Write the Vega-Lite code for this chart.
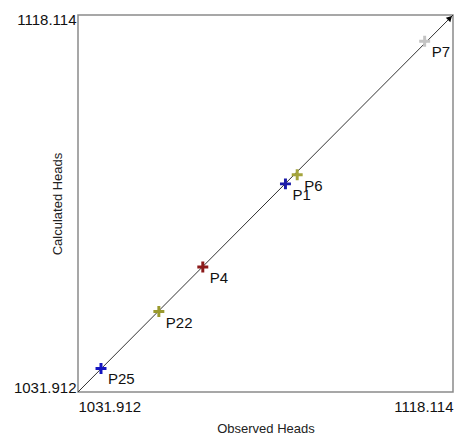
{
  "$schema": "https://vega.github.io/schema/vega-lite/v6.json",
  "width": 375,
  "height": 377,
  "autosize": "none",
  "padding": {"left": 78, "top": 15, "right": 2, "bottom": 44},
  "background": "white",
  "config": {
    "font": "Liberation Sans",
    "view": {"stroke": "#8a8a8a", "strokeWidth": 1.5}
  },
  "datasets": {
    "pts": [
      {"name": "P25", "obs": 1037.2, "calc": 1037.3, "color": "#1414c0"},
      {"name": "P22", "obs": 1050.5, "calc": 1050.3, "color": "#9a9a2e"},
      {"name": "P4", "obs": 1060.6, "calc": 1060.5, "color": "#8b1a1a"},
      {"name": "P6", "obs": 1082.3, "calc": 1081.6, "color": "#a4a43c"},
      {"name": "P1", "obs": 1079.6, "calc": 1079.5, "color": "#1a1aa8"},
      {"name": "P7", "obs": 1111.6, "calc": 1112.1, "color": "#c4c4c4"}
    ],
    "line": [
      {"obs": 1031.912, "calc": 1031.912},
      {"obs": 1118.114, "calc": 1118.114}
    ],
    "tip": [
      {"obs": 1118.114, "calc": 1118.114}
    ]
  },
  "encoding": {
    "x": {
      "field": "obs",
      "type": "quantitative",
      "scale": {"domain": [1031.912, 1118.114], "nice": false, "zero": false},
      "axis": {
        "values": [1031.912, 1118.114],
        "format": ".3f",
        "labelFlush": true,
        "ticks": false,
        "domain": false,
        "grid": false,
        "labelFontSize": 15,
        "labelColor": "#111",
        "labelPadding": 7,
        "title": "Observed Heads",
        "titleFontSize": 13,
        "titleFontWeight": "normal",
        "titleColor": "#222",
        "titleBaseline": "middle",
        "titleY": 36
      }
    },
    "y": {
      "field": "calc",
      "type": "quantitative",
      "scale": {"domain": [1031.912, 1118.114], "nice": false, "zero": false},
      "axis": {
        "values": [1031.912, 1118.114],
        "format": ".3f",
        "labelFlush": true,
        "labelFlushOffset": 3,
        "ticks": false,
        "domain": false,
        "grid": false,
        "labelFontSize": 15,
        "labelColor": "#111",
        "labelPadding": 2,
        "title": "Calculated Heads",
        "titleFontSize": 13,
        "titleFontWeight": "normal",
        "titleColor": "#222",
        "titleAngle": 270,
        "titleAlign": "center",
        "titleBaseline": "middle",
        "titleX": -21,
        "titleY": 188.5
      }
    }
  },
  "layer": [
    {
      "data": {"name": "line"},
      "mark": {"type": "line", "color": "#333", "strokeWidth": 1}
    },
    {
      "data": {"name": "tip"},
      "mark": {"type": "point", "shape": "triangle-up", "angle": 45, "filled": true, "color": "#000", "size": 40, "opacity": 1, "xOffset": -3, "yOffset": 3}
    },
    {
      "data": {"name": "pts"},
      "mark": {"type": "point", "shape": "M-1,-0.27H1V0.27H-1Z M-0.27,-1H0.27V1H-0.27Z", "filled": true, "size": 120, "opacity": 1},
      "encoding": {
        "color": {"field": "color", "type": "nominal", "scale": null}
      }
    },
    {
      "data": {"name": "pts"},
      "mark": {"type": "text", "align": "left", "baseline": "middle", "dx": 7, "dy": 11, "fontSize": 15, "color": "#111"},
      "encoding": {
        "text": {"field": "name"}
      }
    }
  ]
}
